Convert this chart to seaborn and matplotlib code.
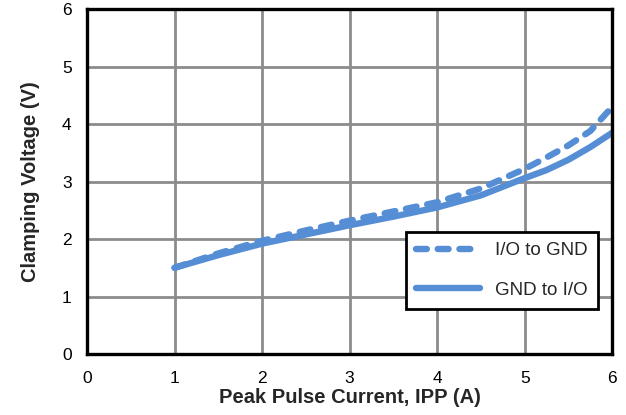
import matplotlib
matplotlib.use('Agg')
import matplotlib.pyplot as plt
import pandas as pd
import seaborn as sns

# Values
ipp = [1, 1.5, 2, 2.5, 3, 3.5, 4, 4.5, 5, 5.25, 5.5, 5.75, 6]
io_to_gnd = [1.5, 1.75, 1.97, 2.15, 2.32, 2.48, 2.64, 2.88, 3.22, 3.42, 3.63, 3.88, 4.3]
gnd_to_io = [1.5, 1.72, 1.92, 2.08, 2.24, 2.39, 2.55, 2.76, 3.06, 3.2, 3.38, 3.6, 3.85]
x_ticks = [0, 1, 2, 3, 4, 5, 6]
y_ticks = [0, 1, 2, 3, 4, 5, 6]

blue = '#558ED5'

sns.set_style('white')
plt.rcParams['font.family'] = ['Liberation Sans', 'DejaVu Sans']

df = pd.DataFrame({'IPP': ipp, 'I/O to GND': io_to_gnd, 'GND to I/O': gnd_to_io})

fig = plt.figure(figsize=(6.26, 4.15), dpi=100)
ax = fig.add_axes([0.139, 0.147, 0.839, 0.831])

sns.lineplot(data=df, x='IPP', y='I/O to GND', ax=ax, color=blue, lw=4.6,
             linestyle=(0, (1.7, 1.7)), dash_capstyle='round', label='I/O to GND')
sns.lineplot(data=df, x='IPP', y='GND to I/O', ax=ax, color=blue, lw=4.6,
             solid_capstyle='round', label='GND to I/O')

ax.set_xlim(0, 6)
ax.set_ylim(0, 6)
ax.set_xticks(x_ticks)
ax.set_yticks(y_ticks)
ax.grid(True, color='#8c8c8c', lw=2.0)
ax.set_axisbelow(True)
for s in ax.spines.values():
    s.set_color('black')
    s.set_linewidth(2.4)
    s.set_visible(True)
ax.tick_params(length=0, labelsize=12.5, colors='black')
ax.tick_params(axis='x', pad=12)
ax.tick_params(axis='y', pad=11)

ax.set_xlabel('Peak Pulse Current, IPP (A)', fontsize=14.5, fontweight='bold', labelpad=2)
ax.set_ylabel('Clamping Voltage (V)', fontsize=14.5, fontweight='bold', labelpad=16)

leg = ax.legend(loc='lower right', bbox_to_anchor=(0.973, 0.13), borderaxespad=0,
                fontsize=13.5, frameon=True, fancybox=False, edgecolor='black',
                framealpha=1, handlelength=3.4, handletextpad=0.8,
                labelspacing=1.2, borderpad=0.55)
leg.get_frame().set_linewidth(2.0)

fig.savefig('out.png', dpi=100)
